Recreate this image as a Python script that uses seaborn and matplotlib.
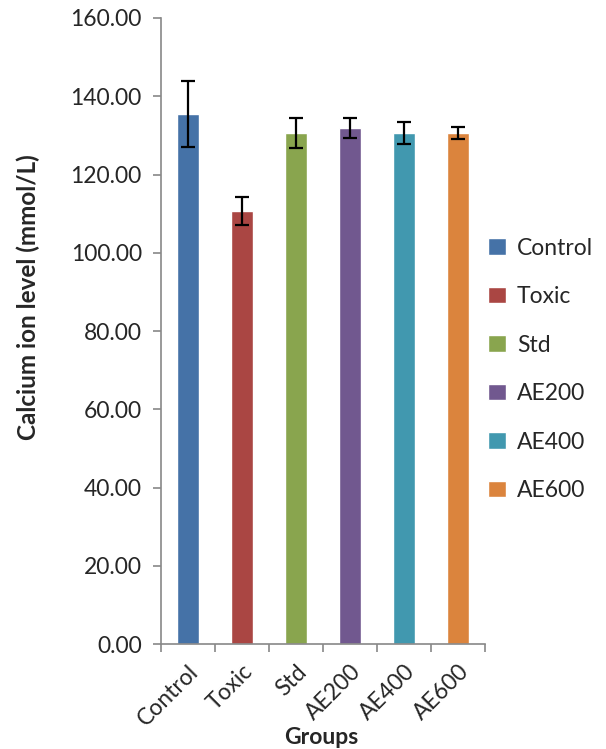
import matplotlib
matplotlib.use("Agg")
import matplotlib.pyplot as plt
import seaborn as sns
import pandas as pd
import numpy as np

groups = ["Control", "Toxic", "Std", "AE200", "AE400", "AE600"]
values = [135.5, 110.7, 130.6, 131.9, 130.6, 130.6]
errors = [8.4, 3.5, 3.9, 2.6, 2.7, 1.5]
colors = ["#4572A7", "#AA4643", "#89A54E", "#71588F", "#4198AF", "#DB843D"]
yticks = [0, 20, 40, 60, 80, 100, 120, 140, 160]

sns.set_theme(style="white")
plt.rcParams["font.family"] = ["Lato", "DejaVu Sans"]

df = pd.DataFrame({"Group": groups, "Value": values})

fig = plt.figure(figsize=(6.06, 7.49), dpi=100)
ax = fig.add_axes([0.266, 0.140, 0.534, 0.836])
sns.barplot(data=df, x="Group", y="Value", hue="Group", palette=colors,
            order=groups, hue_order=groups, dodge=False, width=0.41,
            legend=True, ax=ax, saturation=1, errorbar=None)

ax.errorbar(np.arange(len(groups)), values, yerr=errors, fmt="none",
            ecolor="black", elinewidth=1.6, capsize=5, capthick=1.6)

fs = 16.5
ax.set_ylim(0, 160)
ax.set_xlim(-0.5, len(groups) - 0.5)
ax.set_yticks(yticks)
ax.set_yticklabels([f"{v:.2f}" for v in yticks], fontsize=fs)
ax.set_xticks(np.arange(len(groups)))
ax.set_xticklabels(groups, rotation=45, ha="right", rotation_mode="anchor", fontsize=fs)
ax.set_xticks(np.arange(len(groups) + 1) - 0.5, minor=True)
ax.tick_params(axis="x", which="major", length=0, pad=12)
ax.tick_params(axis="x", which="minor", length=6, color="#888888", width=1.2, direction="out", bottom=True)
ax.tick_params(axis="y", length=6, color="#888888", width=1.2, direction="out", left=True, pad=8)

for s in ["top", "right"]:
    ax.spines[s].set_visible(False)
for s in ["left", "bottom"]:
    ax.spines[s].set_color("#888888")
    ax.spines[s].set_linewidth(1.2)

ax.set_ylabel("Calcium ion level (mmol/L)", fontsize=17.5, fontweight="bold")
ax.yaxis.set_label_coords(-0.41, 0.554)
ax.yaxis.label.set_va("center")
ax.set_xlabel("Groups", fontsize=fs, fontweight="bold")
ax.xaxis.set_label_coords(0.494, -0.149)
ax.xaxis.label.set_va("center")

handles, labels = ax.get_legend_handles_labels()
ax.legend(handles, labels, loc="center left", bbox_to_anchor=(0.806, 0.507),
          bbox_transform=fig.transFigure,
          frameon=False, fontsize=fs, handlelength=0.75, handleheight=0.75,
          labelspacing=1.2, handletextpad=0.5, borderaxespad=0, borderpad=0)

fig.savefig("out.png", dpi=100)
